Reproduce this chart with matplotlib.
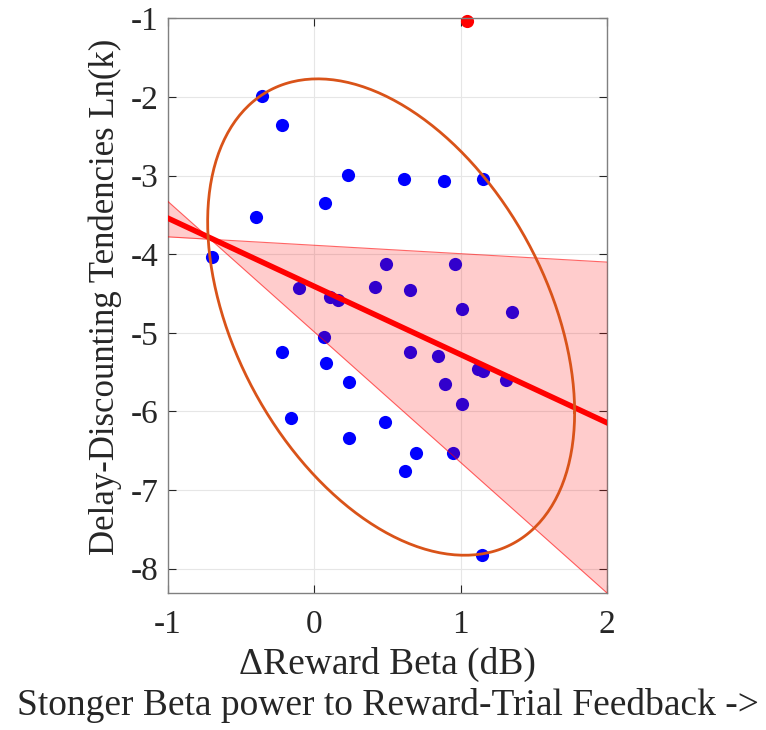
import matplotlib.pyplot as plt
import numpy as np

# Data
# Delta reward beta (dB) for each subject
beta = [-0.355, -0.219, 0.228, 0.613, 0.889, 1.153, 0.073, -0.401, -0.701,
        0.488, 0.964, -0.103, 0.413, 0.656, 0.107, 0.164, 1.012, 1.353,
        0.068, -0.223, 0.652, 0.848, 0.082, 1.121, 1.155, 0.237, 1.308,
        0.893, 1.012, -0.161, 0.481, 0.235, 0.695, 0.948, 0.620, 1.144]
# ln(k) delay discounting
lnk = [-1.99, -2.355, -2.99, -3.05, -3.07, -3.05, -3.35, -3.53, -4.03,
       -4.13, -4.13, -4.43, -4.42, -4.45, -4.55, -4.58, -4.70, -4.74,
       -5.06, -5.25, -5.25, -5.29, -5.39, -5.46, -5.49, -5.63, -5.60,
       -5.65, -5.90, -6.09, -6.13, -6.34, -6.53, -6.53, -6.76, -7.83]
# outlier
out_beta = [1.04]
out_lnk = [-1.04]

# fit line (slope, intercept) and the two confidence bound lines
fit = (-0.867, -4.41)
bound1 = (-1.66, -4.99)
bound2 = (-0.107, -3.887)

# ellipse: centre, sd x, sd y, covariance
ell_c = (0.525, -4.80)
ell_sx = 1.254
ell_sy = 3.03
ell_cxy = -1.52

plt.rcParams['font.family'] = ['Liberation Serif', 'DejaVu Serif']

fig = plt.figure(figsize=(7.66, 7.30), dpi=100)
ax = fig.add_axes([0.2193, 0.1877, 0.5731, 0.7872])

ax.scatter(beta, lnk, s=90, color='#0000ff', zorder=2, linewidths=0)
ax.scatter(out_beta, out_lnk, s=90, color='#ff0000', zorder=2, linewidths=0,
           clip_on=False)

xx = np.linspace(-1, 2, 200)
b1 = bound1[0] * xx + bound1[1]
b2 = bound2[0] * xx + bound2[1]
ax.fill_between(xx, np.minimum(b1, b2), np.maximum(b1, b2),
                color='#ff0000', alpha=0.2, linewidth=0, zorder=3)
ax.plot(xx, b1, color='#ff0000', lw=0.8, alpha=0.6, zorder=3)
ax.plot(xx, b2, color='#ff0000', lw=0.8, alpha=0.6, zorder=3)

ax.plot(xx, fit[0] * xx + fit[1], color='#ff0000', lw=4, zorder=4)

# covariance ellipse
t = np.linspace(0, 2 * np.pi, 300)
k = ell_cxy / ell_sx
ex = ell_c[0] + ell_sx * np.cos(t)
ey = ell_c[1] + k * np.cos(t) + np.sqrt(ell_sy ** 2 - k ** 2) * np.sin(t)
ax.plot(ex, ey, color='#d95319', lw=2, zorder=5)

ax.set_xlim(-1, 2)
ax.set_ylim(-8.31, -1)
ax.set_xticks([-1, 0, 1, 2])
ax.set_yticks([-8, -7, -6, -5, -4, -3, -2, -1])
ax.set_xticklabels(['-1', '0', '1', '2'])
ax.set_yticklabels(['-8', '-7', '-6', '-5', '-4', '-3', '-2', '-1'])
ax.tick_params(direction='in', top=True, right=True, labelsize=24,
               colors='#262626', length=6, width=0.8)
ax.tick_params(axis='y', pad=7)
ax.tick_params(axis='x', pad=12)
for sp in ax.spines.values():
    sp.set_color('#808080')
    sp.set_linewidth(1)
ax.grid(True, color='#e6e6e6', lw=0.8)
ax.set_axisbelow(True)

ax.set_xlabel('\u0394Reward Beta (dB)\nStonger Beta power to Reward-Trial Feedback ->',
              fontsize=27, color='#262626', linespacing=1.22, labelpad=5)
ax.set_ylabel('Delay-Discounting Tendencies Ln(k)', fontsize=25, color='#262626',
              labelpad=6)
ax.yaxis.label.set_y(0.515)

fig.savefig('out.png', dpi=100)
